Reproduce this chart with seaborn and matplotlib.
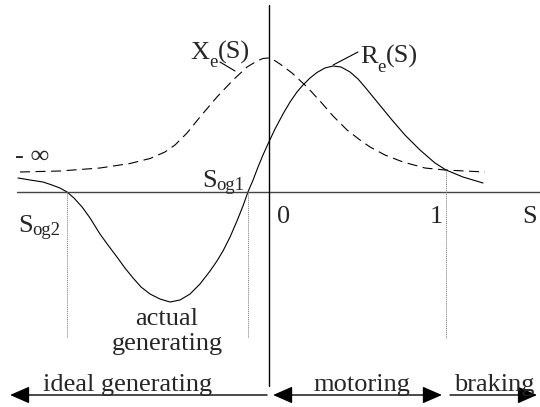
import matplotlib
matplotlib.use("Agg")
import matplotlib.pyplot as plt
import seaborn as sns
import pandas as pd

# Slip values and the equivalent resistance seen at the terminals
slip_r = [-1.418, -1.350, -1.277, -1.226, -1.181, -1.141, -1.102, -1.056, -1.011,
          -0.955, -0.910, -0.859, -0.814, -0.768, -0.723, -0.672, -0.616, -0.559,
          -0.503, -0.446, -0.390, -0.333, -0.294, -0.260, -0.220, -0.181, -0.147,
          -0.119, -0.090, -0.062, -0.034, -0.006, 0.034, 0.079, 0.119, 0.158,
          0.192, 0.232, 0.271, 0.316, 0.362, 0.407, 0.458, 0.503, 0.542, 0.616,
          0.695, 0.768, 0.853, 0.938, 1.000, 1.096, 1.209]
r_e = [0.112, 0.096, 0.080, 0.056, 0.032, 0.000, -0.048, -0.120, -0.208,
       -0.336, -0.424, -0.520, -0.608, -0.688, -0.760, -0.816, -0.856, -0.880,
       -0.864, -0.816, -0.736, -0.632, -0.552, -0.472, -0.360, -0.232, -0.112,
       0.000, 0.096, 0.200, 0.296, 0.384, 0.504, 0.624, 0.720, 0.800,
       0.856, 0.912, 0.956, 0.992, 1.008, 1.000, 0.960, 0.904, 0.840, 0.712,
       0.576, 0.456, 0.336, 0.232, 0.176, 0.120, 0.072]

# Slip values and the equivalent reactance
slip_x = [-1.407, -1.181, -0.955, -0.785, -0.672, -0.588, -0.531, -0.463, -0.390,
          -0.294, -0.203, -0.124, -0.068, -0.034, -0.006, 0.023, 0.062, 0.130,
          0.215, 0.288, 0.362, 0.441, 0.514, 0.571, 0.655, 0.757, 0.881, 0.994,
          1.107, 1.220]
x_e = [0.160, 0.168, 0.192, 0.228, 0.268, 0.320, 0.376, 0.472, 0.600,
       0.760, 0.896, 1.000, 1.048, 1.068, 1.072, 1.060, 1.024, 0.952,
       0.840, 0.728, 0.608, 0.496, 0.416, 0.360, 0.296, 0.240, 0.192, 0.176,
       0.168, 0.160]

# Characteristic slips: the two zero crossings of R_e and standstill
s_og2 = -1.141
s_og1 = -0.119
s_standstill = 1.0
rx_cross = 0.176

# Operating regions along the slip axis
regions = ["ideal generating", "motoring", "braking"]
region_start = [-0.011, 0.023, 1.023]
region_end = [-1.463, 0.977, 1.514]

tick_labels = ["0", "1", "S"]

sns.set_theme(style="white")
plt.rcParams["font.family"] = ["Liberation Serif", "DejaVu Serif"]

fig = plt.figure(figsize=(5.4, 4.07), dpi=100)
ax = fig.add_axes([0, 0, 1, 1])
ax.set_xlim(-1.5198, 1.5311)
ax.set_ylim(-1.72, 1.536)
ax.axis("off")

df_r = pd.DataFrame({"slip": slip_r, "value": r_e})
df_x = pd.DataFrame({"slip": slip_x, "value": x_e})

sns.lineplot(data=df_r, x="slip", y="value", ax=ax, color="black",
             linewidth=0.8, estimator=None, sort=False)
sns.lineplot(data=df_x, x="slip", y="value", ax=ax, color="black",
             linewidth=0.8, estimator=None, sort=False)
ax.lines[-1].set_dashes((9, 5))

# Slip axis and vertical reference axis
ax.plot([-1.424, 1.531], [0, 0], color="#444444", lw=1.0)
ax.plot([0, 0], [1.496, -1.552], color="black", lw=1.0)

# Dotted drop lines at the characteristic slips
dot_kw = dict(color="#777777", lw=0.7, linestyle=(0, (1, 1)))
ax.plot([s_og2, s_og2], [0, -1.168], **dot_kw)
ax.plot([s_og1, s_og1], [0, -1.168], **dot_kw)
ax.plot([s_standstill, s_standstill], [rx_cross, -1.168], **dot_kw)

fs = 19
sub_fs = 13.5
renderer = fig.canvas.get_renderer()


def rich_text(x, y, parts):
    """Draw consecutive text runs; each part is (text, size, drop_in_points)."""
    dx = 0.0
    for txt, size, drop in parts:
        t = ax.annotate(txt, xy=(x, y), xycoords="data", xytext=(dx, -drop),
                        textcoords="offset points", fontsize=size,
                        va="baseline", ha="left")
        dx += t.get_window_extent(renderer).width * 72.0 / fig.dpi


# Axis labels
ax.text(0.045, -0.248, tick_labels[0], fontsize=fs, va="baseline", ha="left")
ax.text(0.910, -0.248, tick_labels[1], fontsize=fs, va="baseline", ha="left")
ax.text(1.429, -0.248, tick_labels[2], fontsize=fs, va="baseline", ha="left")

ax.text(-1.435, 0.232, "- \u221e", fontsize=fs, va="baseline", ha="left")
rich_text(-0.379, 0.04, [("S", fs, 0), ("og1", sub_fs, 2)])
rich_text(-1.418, -0.32, [("S", fs, 0), ("og2", sub_fs, 2)])

# Curve labels with leader lines
rich_text(-0.446, 1.064, [("X", fs, 0), ("e", sub_fs, 6), ("(S)", fs, 0)])
ax.plot([-0.277, -0.192], [1.04, 0.968], color="black", lw=0.8)
rich_text(0.514, 1.032, [("R", fs, 0), ("e", sub_fs, 6.5), ("(S)", fs, 0)])
ax.plot([0.362, 0.503], [1.016, 1.12], color="black", lw=0.8)

ax.text(-0.576, -1.064, "actual", fontsize=fs, va="baseline", ha="center")
ax.text(-0.576, -1.264, "generating", fontsize=fs, va="baseline", ha="center")

# Region arrows along the bottom
arrow_y = -1.624
head = dict(arrowstyle="-|>,head_length=0.8,head_width=0.35", color="black",
            lw=1.0, shrinkA=0, shrinkB=0, mutation_scale=15)
both = dict(arrowstyle="<|-|>,head_length=0.8,head_width=0.35", color="black",
            lw=1.0, shrinkA=0, shrinkB=0, mutation_scale=15)
ax.annotate("", xy=(region_end[0], arrow_y), xytext=(region_start[0], arrow_y),
            arrowprops=head)
ax.annotate("", xy=(region_end[1], arrow_y), xytext=(region_start[1], arrow_y),
            arrowprops=both)
ax.annotate("", xy=(region_end[2], arrow_y), xytext=(region_start[2], arrow_y),
            arrowprops=head)

ax.text(-1.277, -1.592, regions[0], fontsize=fs, va="baseline", ha="left")
ax.text(0.249, -1.592, regions[1], fontsize=fs, va="baseline", ha="left")
ax.text(1.045, -1.592, regions[2], fontsize=fs, va="baseline", ha="left")

fig.savefig("out.png", dpi=100)
